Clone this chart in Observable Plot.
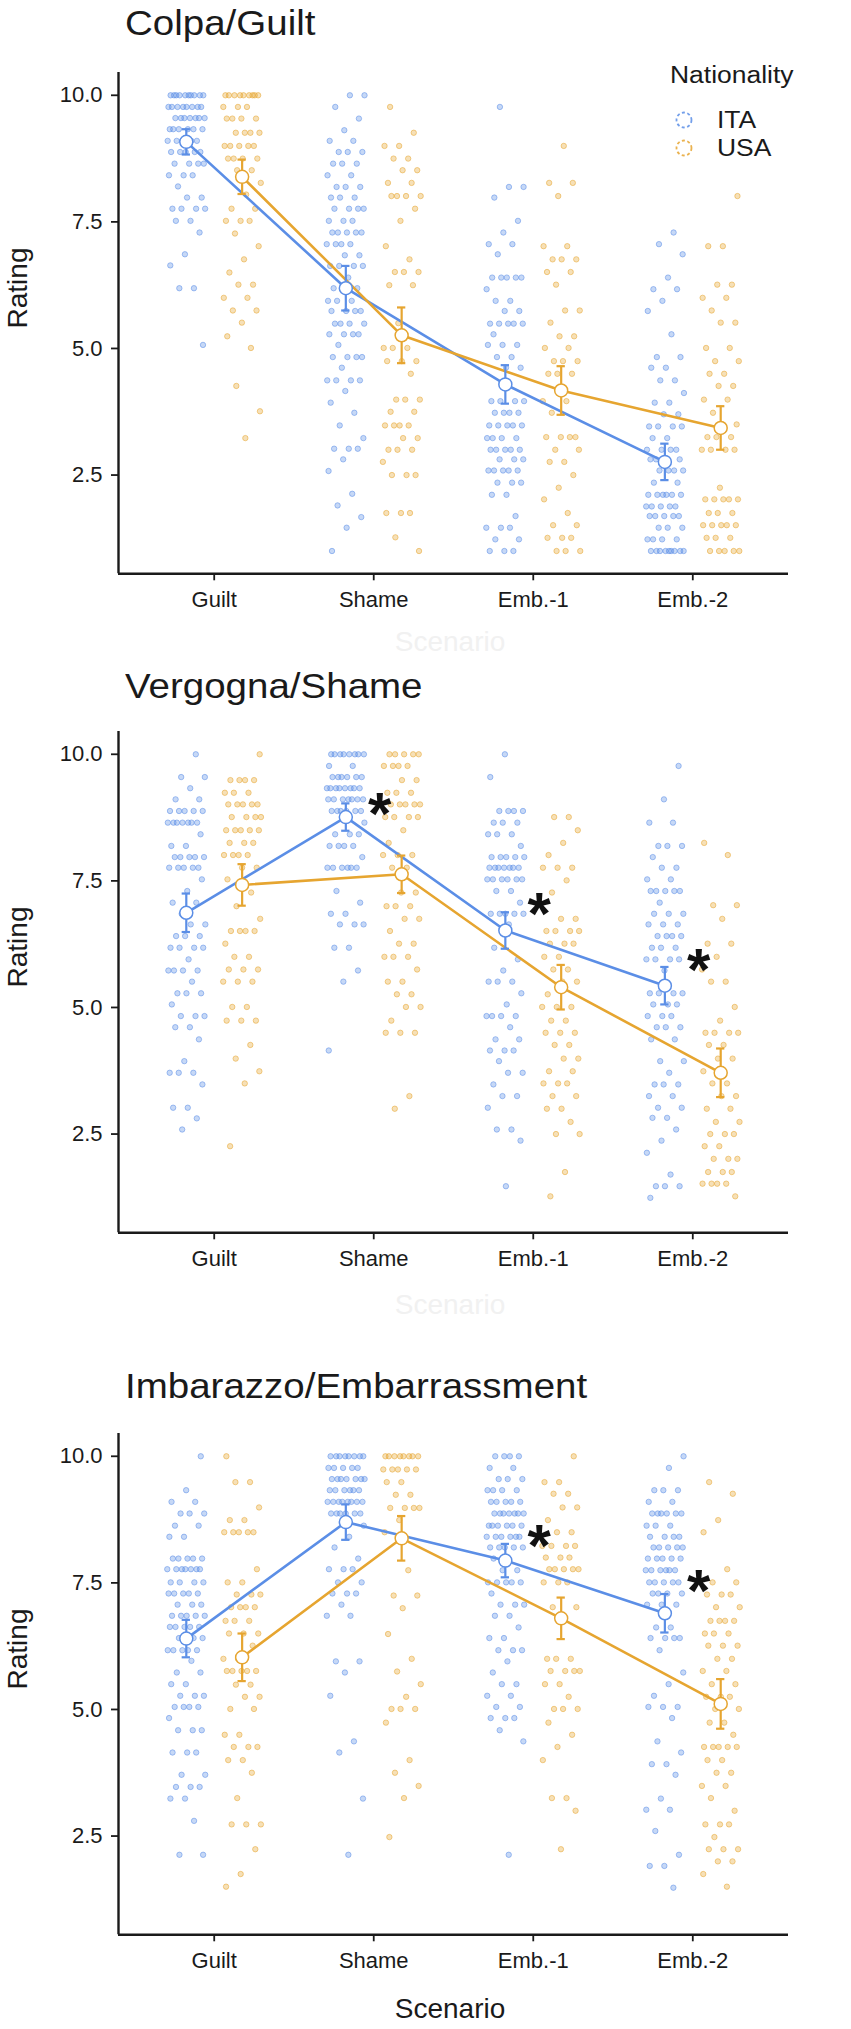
<!DOCTYPE html>
<html><head><meta charset="utf-8">
<script src="https://cdn.jsdelivr.net/npm/d3@7"></script>
<script src="https://cdn.jsdelivr.net/npm/@observablehq/plot@0.6"></script>
<style>
body{margin:0;background:#fff;}
#wrap{position:relative;width:851px;height:2029px;overflow:hidden;font-family:"Liberation Sans",Arial,Helvetica,sans-serif;color:#1a1a1a;background:#fff;}
.title{position:absolute;left:125px;font-size:35px;line-height:35px;white-space:nowrap;transform-origin:0 0;transform:scaleX(1.1);}
.plot{position:absolute;left:0;}
.ylab{position:absolute;left:18px;font-size:28px;line-height:28px;white-space:nowrap;transform:translate(-50%,-50%) rotate(-90deg);}
.xlab{position:absolute;font-size:28px;line-height:28px;white-space:nowrap;transform:translate(-50%,-50%);}
.leg{position:absolute;font-size:23px;line-height:23px;white-space:nowrap;transform-origin:0 50%;transform:translateY(-50%) scaleX(1.15);}
.sym{position:absolute;}
</style></head>
<body><div id="wrap"></div>
<script>
const scenarios = ["Guilt", "Shame", "Emb.-1", "Emb.-2"];
const nationalities = ["ITA", "USA"];
const colors = ["#5b8ee6", "#e6a530"];
const titles = ["Colpa/Guilt", "Vergogna/Shame", "Imbarazzo/Embarrassment"];
const yTicks = [2.5, 5, 7.5, 10];

// individual ratings as [rating, number of participants]
// Panel 1: Colpa/Guilt
const p1_ITA_Guilt = [[10,10],[9.77,8],[9.55,7],[9.33,6],[9.1,5],[8.88,5],[8.65,4],[8.42,3],[8.2,1],[7.98,2],[7.76,4],[7.52,2],[7.29,1],[6.86,1],[6.64,1],[6.19,2],[5.07,1]];
const p1_USA_Guilt = [[10,9],[9.77,3],[9.54,4],[9.26,4],[9.0,5],[8.75,4],[8.52,2],[8.27,1],[8.04,1],[7.76,2],[7.52,3],[7.27,1],[7.02,1],[6.76,1],[6.5,1],[6.26,2],[6.0,2],[5.75,2],[5.51,1],[5.24,1],[5.01,1],[4.26,1],[3.76,1],[3.23,1]];
const p1_ITA_Shame = [[10,2],[9.77,1],[9.54,1],[9.31,1],[9.1,2],[8.88,3],[8.65,3],[8.42,2],[8.19,3],[7.98,3],[7.76,4],[7.52,3],[7.29,5],[7.06,4],[6.84,2],[6.63,4],[6.4,1],[6.19,3],[5.94,3],[5.74,4],[5.49,4],[5.28,4],[5.07,1],[4.83,4],[4.62,1],[4.37,4],[4.16,1],[3.93,1],[3.73,1],[3.48,1],[3.23,1],[3.02,3],[2.81,1],[2.58,1],[2.13,1],[1.9,1],[1.67,1],[1.46,1],[1.0,1]];
const p1_USA_Shame = [[9.77,1],[9.26,1],[9.0,2],[8.75,2],[8.52,2],[8.27,2],[8.01,4],[7.76,1],[7.52,1],[7.02,1],[6.76,1],[6.51,3],[6.25,2],[5.5,1],[5.01,3],[4.75,3],[4.5,1],[3.99,3],[3.75,2],[3.48,4],[3.23,2],[3.0,3],[2.76,1],[2.5,3],[1.75,3],[1.27,1],[1.0,1]];
const p1_ITA_Emb1 = [[9.77,1],[8.19,2],[7.98,1],[7.52,1],[7.29,1],[7.06,2],[6.86,1],[6.4,5],[6.17,1],[5.94,2],[5.74,2],[5.49,5],[5.28,1],[5.07,3],[4.83,2],[4.62,2],[3.96,4],[3.73,4],[3.48,5],[3.23,4],[3.0,5],[2.81,3],[2.59,5],[2.35,3],[2.11,2],[1.69,1],[1.46,3],[1.23,2],[1.0,3]];
const p1_USA_Emb1 = [[9.0,1],[8.27,2],[8.01,1],[7.02,2],[6.76,3],[6.51,2],[6.26,1],[5.75,2],[5.51,1],[5.24,2],[5.01,2],[4.75,3],[4.5,3],[3.96,2],[3.73,1],[3.25,4],[3.0,2],[2.76,2],[2.5,1],[2.25,1],[2.02,1],[1.75,1],[1.51,2],[1.26,3],[1.0,3]];
const p1_ITA_Emb2 = [[7.29,1],[7.06,1],[6.86,1],[6.4,1],[6.17,2],[5.94,1],[5.74,1],[5.28,1],[4.83,2],[4.62,2],[4.37,2],[4.12,1],[3.93,2],[3.7,2],[3.46,4],[3.23,2],[3.0,4],[2.81,4],[2.59,4],[2.35,2],[2.11,6],[1.88,5],[1.69,5],[1.46,3],[1.23,4],[1.0,9]];
const p1_USA_Emb2 = [[8.01,1],[7.02,2],[6.26,2],[6.0,2],[5.75,1],[5.51,2],[5.01,2],[4.75,2],[4.5,2],[4.26,2],[3.99,2],[3.73,1],[3.5,2],[3.25,3],[3.0,4],[2.25,1],[2.02,5],[1.75,3],[1.51,5],[1.26,3],[1.0,5]];
// Panel 2: Vergogna/Shame
const p2_ITA_Guilt = [[10,1],[9.55,2],[9.33,1],[9.11,2],[8.88,5],[8.65,7],[8.42,1],[8.19,2],[7.97,5],[7.76,5],[7.53,1],[7.3,1],[7.07,2],[6.85,1],[6.64,2],[6.41,3],[6.18,4],[5.95,1],[5.73,4],[5.51,1],[5.28,3],[5.06,1],[4.83,3],[4.61,2],[4.37,1],[3.94,1],[3.71,3],[3.48,1],[3.02,2],[2.81,1],[2.59,1]];
const p2_USA_Guilt = [[10,1],[9.49,4],[9.24,3],[9.01,5],[8.76,4],[8.5,5],[8.25,3],[8.01,4],[7.76,2],[7.53,1],[7.27,1],[7.0,1],[6.75,1],[6.51,4],[6.26,1],[6.0,2],[5.75,3],[5.51,3],[5.01,2],[4.74,3],[4.26,1],[3.99,1],[3.74,1],[3.5,1],[2.26,1]];
const p2_ITA_Shame = [[10,8],[9.77,2],[9.55,6],[9.33,8],[9.11,7],[8.88,6],[8.65,1],[8.42,3],[8.19,4],[7.97,1],[7.76,6],[7.3,1],[7.07,1],[6.85,2],[6.64,3],[6.18,2],[5.73,1],[5.51,1],[4.15,1]];
const p2_USA_Shame = [[10,5],[9.77,4],[9.49,2],[9.24,3],[9.01,5],[8.76,4],[8.5,1],[8.25,1],[8.01,3],[7.76,2],[7.27,2],[7.0,3],[6.75,2],[6.51,1],[6.26,2],[6.0,3],[5.75,1],[5.51,2],[5.26,2],[5.01,2],[4.74,1],[4.5,3],[3.25,1],[3.0,1]];
const p2_ITA_Emb1 = [[10,1],[9.55,1],[8.88,4],[8.65,3],[8.42,3],[8.19,1],[7.97,5],[7.76,7],[7.53,6],[7.3,2],[7.07,1],[6.85,5],[6.64,1],[6.18,1],[5.95,1],[5.73,1],[5.51,3],[5.28,1],[5.06,1],[4.83,4],[4.61,1],[4.37,2],[4.15,3],[3.94,1],[3.71,2],[3.48,1],[3.25,2],[3.02,1],[2.59,2],[2.37,1],[1.47,1]];
const p2_USA_Emb1 = [[8.76,2],[8.5,1],[8.25,1],[8.01,1],[7.76,3],[7.51,1],[7.27,1],[6.75,2],[6.51,4],[6.26,3],[6.0,2],[5.75,2],[5.51,2],[5.26,1],[5.01,3],[4.74,2],[4.5,3],[4.26,2],[3.99,2],[3.74,2],[3.5,3],[3.25,2],[3.0,2],[2.74,1],[2.5,2],[1.75,1],[1.27,1]];
const p2_ITA_Emb2 = [[9.77,1],[9.11,1],[8.65,2],[8.19,3],[7.97,1],[7.76,2],[7.53,2],[7.3,5],[7.07,1],[6.85,3],[6.64,3],[6.41,4],[6.18,3],[5.95,4],[5.73,1],[5.28,4],[5.06,3],[4.83,3],[4.61,3],[4.37,2],[3.94,2],[3.71,1],[3.48,3],[3.25,2],[3.02,2],[2.82,2],[2.59,1],[2.37,1],[2.13,1],[1.7,1],[1.47,3],[1.24,1]];
const p2_USA_Emb2 = [[8.25,1],[8.01,1],[7.02,2],[6.75,1],[6.26,2],[6.0,1],[5.75,1],[5.51,2],[5.01,1],[4.74,1],[4.5,4],[4.26,2],[3.99,2],[3.74,1],[3.5,2],[3.25,2],[3.0,2],[2.74,2],[2.5,3],[2.26,2],[2.01,3],[1.75,3],[1.52,4],[1.27,1]];
// Panel 3: Imbarazzo/Embarrassment
const p3_ITA_Guilt = [[10,1],[9.33,1],[9.1,2],[8.87,3],[8.63,2],[8.41,2],[7.98,5],[7.77,7],[7.51,4],[7.29,5],[7.07,3],[6.85,5],[6.63,5],[6.41,3],[6.17,5],[5.96,1],[5.73,2],[5.5,2],[5.27,3],[5.05,4],[4.83,1],[4.59,3],[4.15,3],[3.71,2],[3.47,3],[3.24,2],[2.8,1],[2.13,2]];
const p3_USA_Guilt = [[10,1],[9.49,2],[8.99,1],[8.74,2],[8.5,5],[7.77,1],[7.51,2],[7.27,3],[7.02,4],[6.75,3],[6.5,3],[6.26,1],[6.0,2],[5.76,5],[5.49,2],[5.25,2],[5.01,2],[4.5,2],[4.26,3],[4.0,2],[3.75,1],[3.25,1],[2.73,3],[2.24,1],[1.75,1],[1.5,1]];
const p3_ITA_Shame = [[10,8],[9.77,5],[9.55,7],[9.33,6],[9.1,8],[8.87,6],[8.63,1],[8.41,1],[8.2,1],[7.98,1],[7.77,3],[7.51,2],[7.29,3],[7.07,1],[6.85,2],[5.95,2],[5.73,1],[5.27,1],[4.37,1],[4.15,1],[3.24,1],[2.13,1]];
const p3_USA_Shame = [[10,8],[9.74,5],[9.49,2],[9.24,2],[8.98,4],[8.74,1],[8.5,1],[7.75,1],[7.25,2],[7.0,1],[6.49,1],[6.0,1],[5.75,1],[5.5,1],[5.25,1],[5.01,3],[4.74,1],[4.0,1],[3.75,1],[3.49,1],[3.25,1],[2.48,1]];
const p3_ITA_Emb1 = [[10,4],[9.77,2],[9.55,3],[9.33,4],[9.1,5],[8.87,7],[8.63,6],[8.41,6],[8.2,5],[7.98,2],[7.75,2],[7.51,5],[7.29,1],[7.07,3],[6.85,2],[6.62,1],[6.41,2],[6.17,3],[5.95,1],[5.73,1],[5.5,2],[5.27,2],[5.05,2],[4.83,3],[4.59,1],[4.37,1],[2.13,1]];
const p3_USA_Emb1 = [[10,1],[9.49,2],[9.26,2],[8.99,2],[8.74,1],[8.5,2],[8.23,4],[8.0,3],[7.77,5],[7.51,3],[7.02,2],[6.77,1],[6.0,3],[5.76,4],[5.5,2],[5.25,1],[5.01,3],[4.74,1],[4.5,1],[4.26,1],[4.0,1],[3.25,2],[3.0,1],[2.24,1]];
const p3_ITA_Emb2 = [[10,1],[9.77,1],[9.33,3],[9.1,2],[8.87,6],[8.63,3],[8.41,4],[8.2,5],[7.98,5],[7.75,6],[7.51,5],[7.29,4],[7.07,3],[6.62,2],[6.41,4],[6.17,1],[5.73,1],[5.5,1],[5.27,1],[5.05,3],[4.83,1],[4.37,1],[4.15,1],[3.92,2],[3.71,1],[3.24,1],[3.02,2],[2.6,1],[2.13,1],[1.91,2],[1.48,1]];
const p3_USA_Emb2 = [[9.49,1],[9.26,1],[8.74,1],[8.5,1],[7.77,1],[7.51,2],[7.27,3],[7.02,2],[6.75,4],[6.5,3],[6.26,3],[6.0,2],[5.76,2],[5.5,2],[5.25,3],[5.01,2],[4.74,2],[4.5,1],[4.26,5],[4.0,2],[3.75,2],[3.49,2],[3.25,1],[3.0,1],[2.73,3],[2.48,1],[2.24,3],[2.0,2],[1.75,1],[1.5,1]];

// means and 95% CI half-widths, in scenario order
const p1_ITA_mean = [9.08, 6.19, 4.29, 2.76];
const p1_ITA_ci   = [0.25, 0.44, 0.38, 0.36];
const p1_USA_mean = [8.39, 5.26, 4.17, 3.43];
const p1_USA_ci   = [0.34, 0.55, 0.48, 0.43];
const p2_ITA_mean = [6.87, 8.76, 6.52, 5.43];
const p2_ITA_ci   = [0.38, 0.27, 0.36, 0.37];
const p2_USA_mean = [7.42, 7.63, 5.40, 3.71];
const p2_USA_ci   = [0.41, 0.37, 0.44, 0.48];
const p3_ITA_mean = [6.40, 8.70, 7.94, 6.90];
const p3_ITA_ci   = [0.37, 0.35, 0.33, 0.38];
const p3_USA_mean = [6.03, 8.38, 6.80, 5.11];
const p3_USA_ci   = [0.47, 0.44, 0.41, 0.49];

// significance markers (scenario, height)
const p1_star_scn = [];
const p1_star_y = [];
const p2_star_scn = ["Shame", "Emb.-1", "Emb.-2"];
const p2_star_y = [9.09, 7.10, 6.00];
const p3_star_scn = ["Emb.-1", "Emb.-2"];
const p3_star_y = [8.48, 7.61];

const panelData = [
  {pts: [[p1_ITA_Guilt, p1_ITA_Shame, p1_ITA_Emb1, p1_ITA_Emb2], [p1_USA_Guilt, p1_USA_Shame, p1_USA_Emb1, p1_USA_Emb2]],
   mean: [p1_ITA_mean, p1_USA_mean], ci: [p1_ITA_ci, p1_USA_ci], starScn: p1_star_scn, starY: p1_star_y},
  {pts: [[p2_ITA_Guilt, p2_ITA_Shame, p2_ITA_Emb1, p2_ITA_Emb2], [p2_USA_Guilt, p2_USA_Shame, p2_USA_Emb1, p2_USA_Emb2]],
   mean: [p2_ITA_mean, p2_USA_mean], ci: [p2_ITA_ci, p2_USA_ci], starScn: p2_star_scn, starY: p2_star_y},
  {pts: [[p3_ITA_Guilt, p3_ITA_Shame, p3_ITA_Emb1, p3_ITA_Emb2], [p3_USA_Guilt, p3_USA_Shame, p3_USA_Emb1, p3_USA_Emb2]],
   mean: [p3_ITA_mean, p3_USA_mean], ci: [p3_ITA_ci, p3_USA_ci], starScn: p3_star_scn, starY: p3_star_y}
];

// layout
const plotTops = [71.5, 730.5, 1433];
const titleTops = [4.7, 668, 1368.4];
const MT = 20, MB = 50, INNER = 501.3;
const dodge = 0.175, jitterW = 0.24, capW = 0.026;

const wrap = document.getElementById("wrap");
function addDiv(cls, text, style) {
  const d = document.createElement("div");
  d.className = cls; d.textContent = text;
  Object.assign(d.style, style);
  wrap.appendChild(d);
  return d;
}

panelData.forEach((P, k) => {
  const points = [];
  const means = [];
  nationalities.forEach((nat, ni) => {
    const off = ni === 0 ? -dodge : dodge;
    P.pts[ni].forEach((grp, si) => {
      let idx = 0;
      for (const [v, n] of grp) {
        for (let c = 0; c < n; c++) {
          idx++;
          const j = (((idx * 0.6180339887) + si * 0.37 + ni * 0.21 + k * 0.13) % 1 - 0.5) * jitterW;
          points.push({nat, x: si + 1 + off + j, y: v});
        }
      }
      const m = P.mean[ni][si], e = P.ci[ni][si];
      means.push({nat, x: si + 1 + off, y: m, lo: m - e, hi: m + e});
    });
  });
  const stars = P.starScn.map((s, i) => ({x: scenarios.indexOf(s) + 1, y: P.starY[i]}));

  const svg = Plot.plot({
    width: 851,
    height: MT + INNER + MB,
    marginLeft: 118, marginRight: 63, marginTop: MT, marginBottom: MB,
    style: {fontFamily: "'Liberation Sans', Arial, Helvetica, sans-serif", fontSize: "22px", color: "#1a1a1a", background: "transparent", overflow: "visible"},
    x: {domain: [0.4, 4.6]},
    y: {domain: [0.55, 10.45]},
    color: {domain: nationalities, range: colors},
    marks: [
      Plot.axisX({ticks: [1, 2, 3, 4], tickFormat: i => scenarios[i - 1], tickSize: 7, tickPadding: 11, label: null, strokeWidth: 1.8, fontSize: 22}),
      Plot.axisY({ticks: yTicks, tickFormat: d3.format(".1f"), tickSize: 7, tickPadding: 9, label: null, strokeWidth: 1.8, fontSize: 22}),
      Plot.ruleX([0.4], {stroke: "#1a1a1a", strokeWidth: 2.4}),
      Plot.ruleY([0.55], {stroke: "#1a1a1a", strokeWidth: 2.4}),
      Plot.dot(points, {x: "x", y: "y", r: 2.7, fill: "nat", stroke: "nat", fillOpacity: 0.35, strokeOpacity: 0.6, strokeWidth: 0.9}),
      Plot.line(means, {x: "x", y: "y", z: "nat", stroke: "nat", strokeWidth: 2.6}),
      Plot.ruleX(means, {x: "x", y1: "lo", y2: "hi", stroke: "nat", strokeWidth: 2.2}),
      Plot.ruleY(means, {y: "hi", x1: d => d.x - capW, x2: d => d.x + capW, stroke: "nat", strokeWidth: 2.2}),
      Plot.ruleY(means, {y: "lo", x1: d => d.x - capW, x2: d => d.x + capW, stroke: "nat", strokeWidth: 2.2}),
      Plot.dot(means, {x: "x", y: "y", r: 6.5, fill: "white", stroke: "nat", strokeWidth: 1.5}),
      Plot.text(stars, {x: "x", y: "y", text: () => "*", dx: 6, dy: 14, fontSize: 60, fontWeight: "bold", fill: "#111"})
    ]
  });
  const holder = document.createElement("div");
  holder.className = "plot";
  holder.style.top = (plotTops[k] - MT) + "px";
  holder.appendChild(svg);
  wrap.appendChild(holder);

  addDiv("title", titles[k], {top: titleTops[k] + "px"});
  addDiv("ylab", "Rating", {top: (plotTops[k] + 216) + "px"});
});

// faint ghost axis titles of panels 1 and 2, and the visible one of panel 3
addDiv("xlab", "Scenario", {left: "450px", top: "642px", color: "#f1f1f1"});
addDiv("xlab", "Scenario", {left: "450px", top: "1305px", color: "#f1f1f1"});
addDiv("xlab", "Scenario", {left: "450px", top: "2009px"});

// legend
addDiv("leg", "Nationality", {left: "670px", top: "75px"});
const legY = [120, 148];
nationalities.forEach((nat, i) => {
  const ns = "http://www.w3.org/2000/svg";
  const s = document.createElementNS(ns, "svg");
  s.setAttribute("width", 24); s.setAttribute("height", 24);
  s.setAttribute("class", "sym");
  s.style.left = (684 - 12) + "px"; s.style.top = (legY[i] - 12) + "px";
  s.style.position = "absolute";
  const c = document.createElementNS(ns, "circle");
  c.setAttribute("cx", 12); c.setAttribute("cy", 12); c.setAttribute("r", 7.5);
  c.setAttribute("fill", "white"); c.setAttribute("stroke", colors[i]);
  c.setAttribute("stroke-width", 1.8); c.setAttribute("stroke-dasharray", "3 2.5");
  c.setAttribute("stroke-opacity", 0.85);
  s.appendChild(c);
  wrap.appendChild(s);
  addDiv("leg", nat, {left: "717px", top: legY[i] + "px"});
});
</script>
</body></html>
